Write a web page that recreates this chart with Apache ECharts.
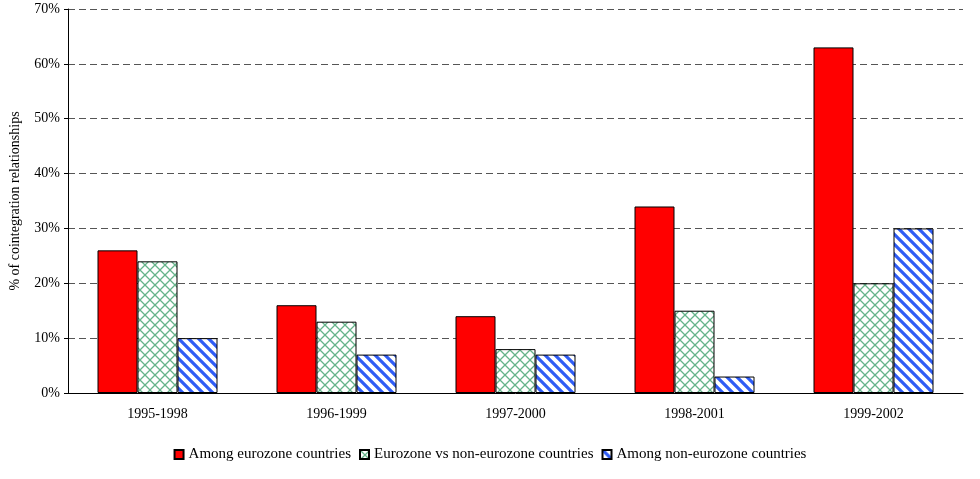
<!DOCTYPE html>
<html>
<head>
<meta charset="utf-8">
<script src="https://cdn.jsdelivr.net/npm/echarts@6/dist/echarts.min.js"></script>
<style>body{margin:0;background:#fff}#c{width:980px;height:479px}</style>
</head>
<body>
<div id="c"></div>
<script>
var periods = ['1995-1998', '1996-1999', '1997-2000', '1998-2001', '1999-2002'];
var amongEuro = [26, 16, 14, 34, 63];
var euroVsNon = [24, 13, 8, 15, 20];
var amongNon = [10, 7, 7, 3, 30];

function crossPattern() {
    var c = document.createElement('canvas');
    c.width = 10; c.height = 10;
    var g = c.getContext('2d');
    g.fillStyle = '#fff'; g.fillRect(0, 0, 10, 10);
    g.strokeStyle = '#66b38a'; g.lineWidth = 1.3;
    g.beginPath();
    g.moveTo(0, 0); g.lineTo(10, 10);
    g.moveTo(10, 0); g.lineTo(0, 10);
    g.stroke();
    return c;
}
function stripePattern() {
    var c = document.createElement('canvas');
    c.width = 10; c.height = 10;
    var g = c.getContext('2d');
    g.fillStyle = '#fff'; g.fillRect(0, 0, 10, 10);
    g.strokeStyle = '#2f5cf5'; g.lineWidth = 3.2;
    g.beginPath();
    g.moveTo(0, 0); g.lineTo(10, 10);
    g.moveTo(-5, 5); g.lineTo(5, 15);
    g.moveTo(5, -5); g.lineTo(15, 5);
    g.stroke();
    return c;
}

var font = 'Liberation Serif';
var chart = echarts.init(document.getElementById('c'));
chart.setOption({
    animation: false,
    textStyle: {fontFamily: font},
    grid: {left: 63, right: 17, top: 9, bottom: 86},
    legend: {
        bottom: 12, left: 'center', itemWidth: 9, itemHeight: 9, itemGap: 8, icon: 'rect',
        textStyle: {fontFamily: font, fontSize: 15, color: '#000'},
        data: ['Among eurozone countries', 'Eurozone vs non-eurozone countries', 'Among non-eurozone countries']
    },
    xAxis: {
        type: 'category', data: periods,
        axisLine: {lineStyle: {color: '#000'}},
        axisTick: {lineStyle: {color: '#000'}, length: 5},
        axisLabel: {color: '#000', fontSize: 14, margin: 14, fontFamily: font}
    },
    yAxis: {
        type: 'value', min: 0, max: 70, interval: 10,
        name: '% of cointegration relationships', nameLocation: 'middle', nameGap: 46,
        nameTextStyle: {color: '#000', fontSize: 14, fontFamily: font},
        axisLine: {show: true, lineStyle: {color: '#000'}},
        axisTick: {show: true, lineStyle: {color: '#000'}, length: 4},
        axisLabel: {color: '#000', fontSize: 14, formatter: '{value}%', fontFamily: font},
        splitLine: {lineStyle: {color: '#555', type: [7, 4]}}
    },
    series: [
        {name: 'Among eurozone countries', type: 'bar', data: amongEuro, barWidth: 40, barGap: '0%',
         itemStyle: {color: '#ff0000', borderColor: '#000', borderWidth: 1}},
        {name: 'Eurozone vs non-eurozone countries', type: 'bar', data: euroVsNon, barWidth: 40,
         itemStyle: {color: {image: crossPattern(), repeat: 'repeat'}, borderColor: '#000', borderWidth: 1}},
        {name: 'Among non-eurozone countries', type: 'bar', data: amongNon, barWidth: 40,
         itemStyle: {color: {image: stripePattern(), repeat: 'repeat'}, borderColor: '#000', borderWidth: 1}}
    ]
});
</script>
</body>
</html>
